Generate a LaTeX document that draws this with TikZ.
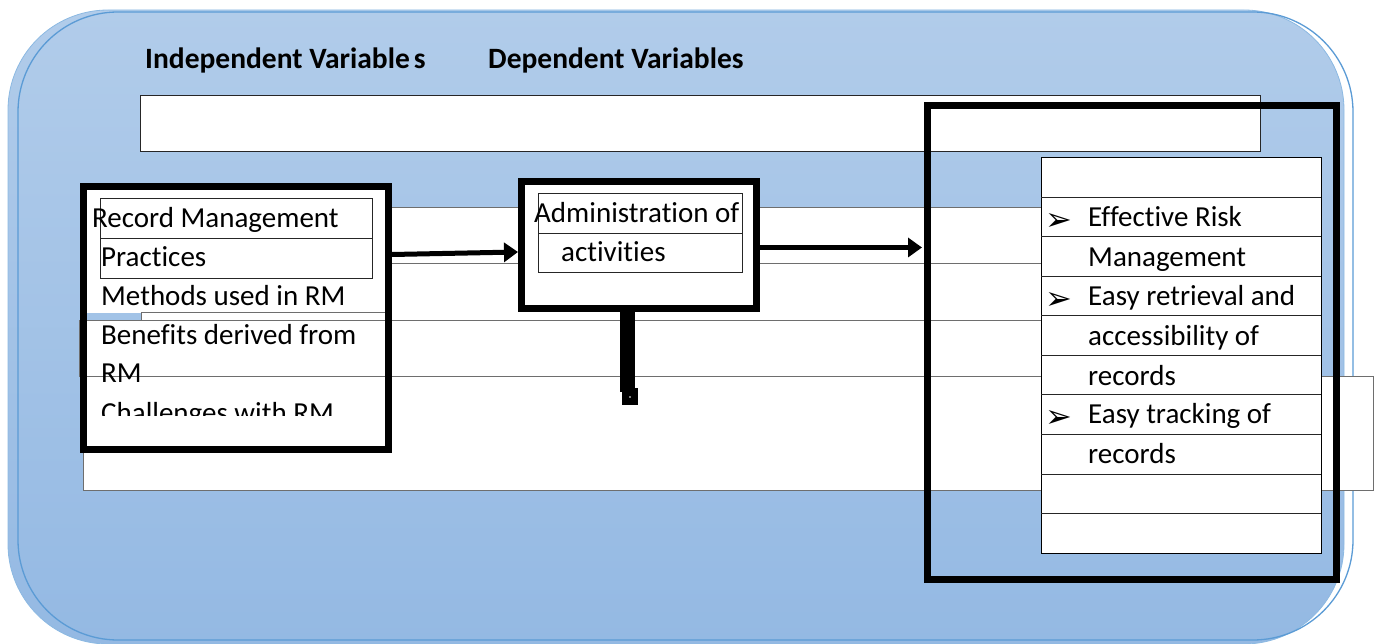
\documentclass[tikz,border=0pt]{standalone}
\usepackage{fontspec}
\setmainfont{Carlito}[Ligatures={NoCommon,NoRare}]
\newfontfamily\symfont{DejaVu Sans}
\usetikzlibrary{arrows.meta,calc}
\definecolor{bgtop}{RGB}{177,204,234}
\definecolor{bgbot}{RGB}{148,185,227}
\definecolor{edgeblue}{RGB}{91,155,213}
\definecolor{rowgray}{RGB}{110,110,110}
\begin{document}
\begin{tikzpicture}[x=1pt,y=-1pt,
  thickbox/.style={draw=black,line width=7pt,inner sep=0pt},
  rowbox/.style={fill=white,draw=rowgray,line width=1pt},
  cell/.style={draw=black!85,line width=1pt},
  txt/.style={inner sep=0pt,anchor=base west,font=\fontsize{29}{35}\selectfont},
  title/.style={inner sep=0pt,anchor=base west,font=\fontsize{29.5}{35}\selectfont\bfseries},
  bul/.style={inner sep=0pt,anchor=base west,font=\symfont\fontsize{32}{34}\selectfont},
  arr/.style={line width=5pt,-{Triangle[length=14pt,width=19pt]}}
]
\useasboundingbox (0,0) rectangle (1377,644);
% background
\shadedraw[top color=bgtop,bottom color=bgbot,draw=edgeblue!70,line width=0.8pt,rounded corners=100pt] (8,10) rectangle (1344,644);
\draw[edgeblue,line width=1.3pt,rounded corners=100pt] (18,12) rectangle (1353,640);
% titles
\node[title] (ivt) at (145,69) {Independent Variable\kern4pt s};
\node[title] (dvt) at (488,69) {Dependent Variables};
% top white box
\node[fill=white,draw=black!85,line width=1pt,minimum width=1120pt,minimum height=56pt,inner sep=0pt] (topbox) at (700,124) {};
% rows behind
\draw[rowbox] (300,208) rectangle (1300,264);
\draw[rowbox] (300,264) rectangle (1300,321);
% RM box interior
\fill[white] (83.5,186.5) rectangle (388.5,449.5);
\draw[rowbox] (79,321) rectangle (1300,377);
\draw[rowbox] (83,377) rectangle (1373,490);
\fill[bgtop!50!bgbot] (87,313) rectangle (141,320.5);
\draw[rowgray,line width=1pt] (141,321) -- (141,313) -- (385,313);
% RM inner table
\draw[cell] (100,199) rectangle (372,279);
\draw[cell] (100,239) -- (372,239);
\node[txt] (t1) at (92,227.5) {Record Management};
\node[txt] (t2) at (101,266.5) {Practices};
\node[txt] (t3) at (101,305.5) {Methods used in RM};
\node[txt] (t4) at (101,344.5) {Benefits derived from};
\node[txt] (t5) at (101,383) {RM};
\begin{scope}
\clip (87,190) rectangle (385,416);
\node[txt] (t6) at (101,422) {Challenges with RM};
\end{scope}
\node[thickbox,minimum width=305pt,minimum height=263pt] (rm) at (236,318) {};
% admin box
\node[thickbox,fill=white,minimum width=235pt,minimum height=127pt] (admin) at (639,245) {};
\draw[cell] (538,194) rectangle (742,273);
\draw[cell] (538,234) -- (742,234);
\node[txt] (a1) at (534,223) {Administration of};
\node[txt] (a2) at (561,262) {activities};
% stem
\fill[black] (620,312) rectangle (635,392);
\fill[black] (622,388) rectangle (638,405);
\fill[white] (630,397) circle (0.8);
% list box
\node[fill=white,draw=black,line width=1pt,minimum width=280pt,minimum height=395pt,inner sep=0pt] (list) at (1181,355.5) {};
\foreach \k in {1,...,9} \draw[cell] (1041,158+39.5*\k) -- (1321,158+39.5*\k);
\node[bul] (b1) at (1045,231) {➢};
\node[bul] (b2) at (1045,310) {➢};
\node[bul] (b3) at (1045,428) {➢};
\node[txt] (l1) at (1088,227) {Effective Risk};
\node[txt] (l2) at (1088,266.5) {Management};
\node[txt] (l3) at (1088,306) {Easy retrieval and};
\node[txt] (l4) at (1088,345.5) {accessibility of};
\node[txt] (l5) at (1088,385) {records};
\node[txt] (l6) at (1088,424) {Easy tracking of};
\node[txt] (l7) at (1088,463.5) {records};
% big frame
\node[thickbox,minimum width=409pt,minimum height=474pt] (frame) at (1132,342.5) {};
% arrows
\draw[arr] ($(rm.east)+(0,-63.5)$) -- ($(admin.west)+(0,7)$);
\draw[arr] ($(admin.east)+(0,2.5)$) -- ($(frame.west |- admin.east)+(-2,2.5)$);
\end{tikzpicture}
\end{document}
